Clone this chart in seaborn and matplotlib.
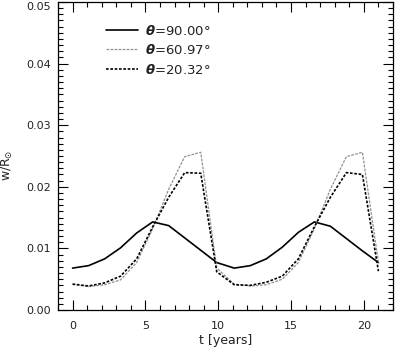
import numpy as np
import pandas as pd
import seaborn as sns
import matplotlib
matplotlib.use("Agg")
import matplotlib.pyplot as plt
from matplotlib.ticker import MultipleLocator
from matplotlib.lines import Line2D

# values
t = [0.0, 1.1, 2.2, 3.3, 4.4, 5.5, 6.6, 7.7, 8.8, 9.9,
     11.1, 12.2, 13.3, 14.4, 15.5, 16.6, 17.7, 18.8, 19.9, 21.0]
w_90 = [0.0068, 0.0072, 0.0083, 0.0101, 0.0125, 0.0143, 0.0137, 0.0117, 0.0097, 0.0077,
        0.0068, 0.0072, 0.0083, 0.0102, 0.0126, 0.0143, 0.0136, 0.0116, 0.0096, 0.0077]
w_61 = [0.0042, 0.0038, 0.0041, 0.0049, 0.0077, 0.0132, 0.0196, 0.0249, 0.0256, 0.0068,
        0.0042, 0.0039, 0.0041, 0.0050, 0.0077, 0.0132, 0.0196, 0.0249, 0.0256, 0.0077]
w_20 = [0.0042, 0.0039, 0.0044, 0.0055, 0.0083, 0.0135, 0.0183, 0.0223, 0.0222, 0.0062,
        0.0041, 0.0040, 0.0045, 0.0055, 0.0083, 0.0135, 0.0183, 0.0223, 0.0220, 0.0063]
labels = [r'$\boldsymbol{\theta}$=90.00°', r'$\boldsymbol{\theta}$=60.97°', r'$\boldsymbol{\theta}$=20.32°']
yticks = [0.00, 0.01, 0.02, 0.03, 0.04, 0.05]
xticks = [0, 5, 10, 15, 20]

sns.set_theme(style="ticks")
plt.rcParams['font.family'] = ['DejaVu Sans']
plt.rcParams['mathtext.fontset'] = 'dejavusans'

df = pd.concat([
    pd.DataFrame({'t': t, 'w': w_90, 'theta': labels[0]}),
    pd.DataFrame({'t': t, 'w': w_61, 'theta': labels[1]}),
    pd.DataFrame({'t': t, 'w': w_20, 'theta': labels[2]}),
])

colors = ['black', '#909090', 'black']
widths = [1.2, 0.9, 1.2]
styles = ['-', (0, (2.2, 1.0)), (0, (1.6, 1.0))]
txt = '#222222'

fig = plt.figure(figsize=(3.96, 3.52), dpi=100)
ax = fig.add_axes([58 / 396, 1 - 310 / 352, 335 / 396, 308 / 352])

for lab, c, lw, ls in zip(labels, colors, widths, styles):
    sns.lineplot(data=df[df.theta == lab], x='t', y='w', color=c, lw=lw,
                 linestyle=ls, ax=ax, legend=False, errorbar=None)

ax.set_xlim(-1, 22)
ax.set_ylim(0, 0.05)
ax.set_xticks(xticks)
ax.set_yticks(yticks)
ax.set_yticklabels(['%.2f' % v for v in yticks])
ax.xaxis.set_minor_locator(MultipleLocator(1))
ax.yaxis.set_minor_locator(MultipleLocator(0.001))
ax.tick_params(which='both', direction='in', top=True, right=True,
               colors='black', labelcolor=txt, labelsize=8, width=0.8)
ax.tick_params(which='major', length=7, pad=5)
ax.tick_params(axis='x', which='major', pad=8)
ax.tick_params(which='minor', length=3.5)
# keep the top label inside the picture
ax.get_yticklabels()[-1].set_verticalalignment('top')
for s in ax.spines.values():
    s.set_linewidth(0.9)
    s.set_color('black')

ax.set_xlabel('t [years]', fontsize=9, color=txt, labelpad=2)
ax.set_ylabel(r'w/R$_{\odot}$', fontsize=9, color=txt)
ax.yaxis.set_label_coords(-0.128, 0.47)

handles = [Line2D([], [], color=c, lw=lw, linestyle=ls)
           for c, lw, ls in zip(colors, widths, styles)]
leg = ax.legend(handles, labels, loc='upper left', bbox_to_anchor=(0.143, 0.93),
                frameon=False, fontsize=9.5, borderpad=0, borderaxespad=0,
                handlelength=2.4, handletextpad=0.6, labelspacing=0.42)
for tx in leg.get_texts():
    tx.set_color(txt)

fig.savefig('out.png', dpi=100)
